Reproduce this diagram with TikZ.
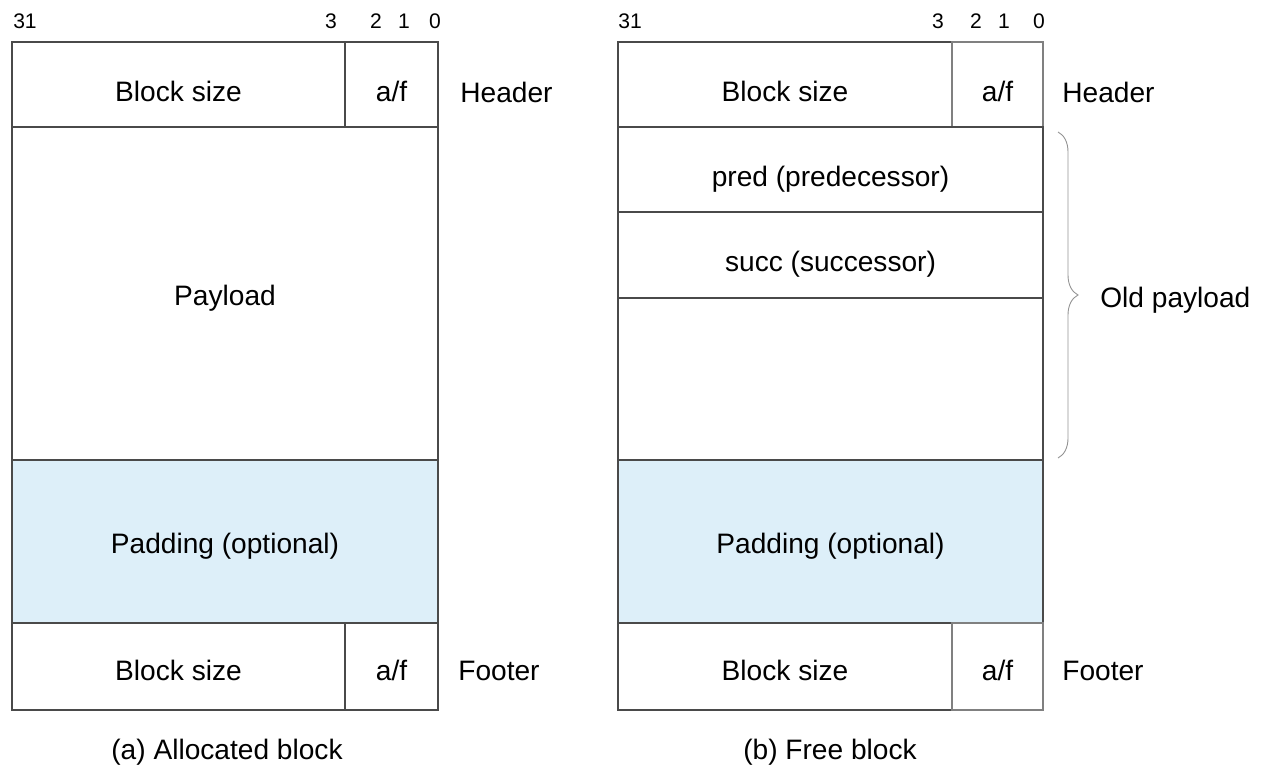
\documentclass[tikz,border=0pt]{standalone}
\usepackage{fontspec}
\setmainfont{Liberation Sans}
\usepackage{xcolor}
\usetikzlibrary{decorations.pathreplacing}

\definecolor{padblue}{HTML}{DDEFF9}
\definecolor{linegray}{HTML}{4A4A4A}

\begin{document}
\begin{tikzpicture}[
    x=0.02cm, y=-0.02cm,
    field/.style={rectangle, draw=linegray, line width=0.8pt, inner sep=0pt, outer sep=0pt, minimum height=1.7cm, align=center, text height=19pt, text depth=0pt, font=\fontsize{16}{19}\selectfont},
    tall/.style={text height=14pt},
    foot/.style={text height=16pt},
    thinfield/.style={field, draw=linegray!70, line width=0.6pt},
    bitnum/.style={font=\fontsize{12}{14}\selectfont, inner sep=0pt},
    side/.style={anchor=west, inner sep=0pt, font=\fontsize{16}{19}\selectfont},
    caption/.style={font=\fontsize{16}{19}\selectfont}
]
    \useasboundingbox (0,0) rectangle (1270,774);

    % (a) Allocated block
    \node[field, minimum width=6.66cm] (ahsize) at (178.5,84.5) {Block size};
    \node[field, minimum width=1.86cm] (ahaf) at (391.5,84.5) {a/f};
    \node[field, tall, minimum width=8.52cm, minimum height=6.66cm] (apay) at (225,293.5) {Payload};
    \node[field, tall, fill=padblue, minimum width=8.52cm, minimum height=3.26cm] (apad) at (225,541.5) {Padding (optional)};
    \node[field, foot, minimum width=6.66cm, minimum height=1.74cm] (afsize) at (178.5,666.5) {Block size};
    \node[field, foot, minimum width=1.86cm, minimum height=1.74cm] (afaf) at (391.5,666.5) {a/f};

    % bit positions (a)
    \node[bitnum] (a31) at (25,21) {31};
    \node[bitnum] (a3) at (331,21) {3};
    \node[bitnum] (a2) at (376,21) {2};
    \node[bitnum] (a1) at (404,21) {1};
    \node[bitnum] (a0) at (435,21) {0};

    % labels (a)
    \node[side] (ahead) at (460,92) {Header};
    \node[side] (afoot) at (458,671) {Footer};
    \node[caption] (acap) at (227,752) {(a) Allocated block};

    % (b) Free block
    \node[field, minimum width=6.68cm] (bhsize) at (785,84.5) {Block size};
    \node[thinfield, minimum width=1.82cm] (bhaf) at (997.5,84.5) {a/f};
    \node[field, minimum width=8.5cm] (bpred) at (830.5,169.5) {pred (predecessor)};
    \node[field, minimum width=8.5cm, minimum height=1.72cm] (bsucc) at (830.5,255) {succ (successor)};
    \node[field, minimum width=8.5cm, minimum height=3.24cm] (bold) at (830.5,379) {};
    \node[field, tall, fill=padblue, minimum width=8.5cm, minimum height=3.26cm] (bpad) at (830.5,541.5) {Padding (optional)};
    \node[field, foot, minimum width=6.68cm, minimum height=1.74cm] (bfsize) at (785,666.5) {Block size};
    \node[thinfield, foot, minimum width=1.82cm, minimum height=1.74cm] (bfaf) at (997.5,666.5) {a/f};

    % bit positions (b)
    \node[bitnum] (b31) at (630,21) {31};
    \node[bitnum] (b3) at (938,21) {3};
    \node[bitnum] (b2) at (976,21) {2};
    \node[bitnum] (b1) at (1004,21) {1};
    \node[bitnum] (b0) at (1039,21) {0};

    % labels (b)
    \node[side] (bhead) at (1062,92) {Header};
    \node[side] (bfoot) at (1062,671) {Footer};
    \node[side] (boldlbl) at (1100,300) {Old payload};
    \node[caption] (bcap) at (830,752) {(b) Free block};

    % brace round the old payload
    \coordinate (btop) at (1058,132);
    \coordinate (bbot) at (1058,458);
    \draw[linegray!60, line width=0.5pt, decorate, decoration={brace, amplitude=0.4cm}] (btop) -- (bbot);
\end{tikzpicture}
\end{document}
